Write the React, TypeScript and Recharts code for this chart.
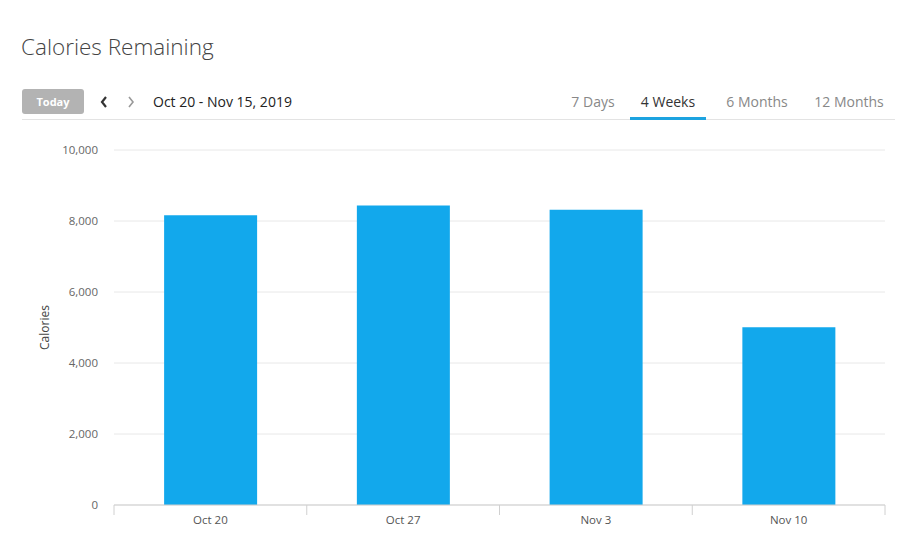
import React from "react";
import { BarChart, Bar, XAxis, YAxis, CartesianGrid } from "recharts";

const weeks = ["Oct 20", "Oct 27", "Nov 3", "Nov 10"];
const caloriesRemaining = [8160, 8440, 8320, 5010];
const yTicks = [0, 2000, 4000, 6000, 8000, 10000];
const rangeTabs = ["7 Days", "4 Weeks", "6 Months", "12 Months"];
const activeTab = "4 Weeks";

const data = weeks.map((week, i) => ({ week, calories: caloriesRemaining[i] }));

const FONT = "'Open Sans', 'Noto Sans', sans-serif";

const WeekTick = (props: any) => {
  const { x, y, payload, index } = props;
  const half = payload.offset || 0;
  const last = index === weeks.length - 1;
  return (
    <g>
      <line x1={x - half} y1={y} x2={x - half} y2={y + 10} stroke="#d0d0d0" />
      {last && <line x1={x + half} y1={y} x2={x + half} y2={y + 10} stroke="#d0d0d0" />}
      <text x={x} y={y + 19} textAnchor="middle" fill="#555" fontSize={11.5} fontFamily={FONT}>
        {payload.value}
      </text>
    </g>
  );
};

const tabPos: Record<string, { left: number; width: number }> = {
  "7 Days": { left: 560, width: 66 },
  "4 Weeks": { left: 630, width: 76 },
  "6 Months": { left: 716, width: 82 },
  "12 Months": { left: 804, width: 90 },
};

export default function App() {
  return (
    <div
      style={{
        position: "absolute",
        left: 0,
        top: 0,
        width: 900,
        height: 534,
        background: "#fff",
        fontFamily: FONT,
        overflow: "hidden",
      }}
    >
      <div style={{ position: "absolute", left: 21, top: 31, fontSize: 22.5, color: "#444", fontWeight: 300 }}>
        Calories Remaining
      </div>

      <div
        style={{
          position: "absolute",
          left: 22,
          top: 89,
          width: 62,
          height: 25,
          background: "#b3b3b3",
          borderRadius: 3,
          color: "#fff",
          fontSize: 11,
          fontWeight: 700,
          lineHeight: "25px",
          textAlign: "center",
        }}
      >
        Today
      </div>
      <svg style={{ position: "absolute", left: 97, top: 94 }} width={44} height={16}>
        <polyline points="9,3 5,8 9,13" fill="none" stroke="#333" strokeWidth={2.2} />
        <polyline points="32,3 36,8 32,13" fill="none" stroke="#999" strokeWidth={1.6} />
      </svg>
      <div style={{ position: "absolute", left: 153, top: 92, fontSize: 14, color: "#222" }}>
        Oct 20 - Nov 15, 2019
      </div>

      {rangeTabs.map((t) => (
        <div
          key={t}
          style={{
            position: "absolute",
            left: tabPos[t].left,
            top: 92,
            width: tabPos[t].width,
            textAlign: "center",
            fontSize: 14,
            color: t === activeTab ? "#333" : "#888",
          }}
        >
          {t}
        </div>
      ))}
      <div style={{ position: "absolute", left: 22, top: 119, width: 873, height: 1, background: "#e3e3e3" }} />
      <div
        style={{
          position: "absolute",
          left: tabPos[activeTab].left,
          top: 117,
          width: tabPos[activeTab].width,
          height: 3,
          background: "#1da3e0",
        }}
      />

      <div style={{ position: "absolute", left: 0, top: 0 }}>
        <BarChart
          width={900}
          height={534}
          data={data}
          margin={{ top: 150, right: 15, bottom: 0, left: 0 }}
          barCategoryGap="26%"
        >
          <CartesianGrid vertical={false} stroke="#e8e8e8" />
          <XAxis
            dataKey="week"
            height={29}
            axisLine={{ stroke: "#cfcfcf" }}
            tickLine={false}
            tickSize={0}
            tickMargin={0}
            tick={<WeekTick />}
            interval={0}
          />
          <YAxis
            width={114}
            domain={[0, 10000]}
            ticks={yTicks}
            axisLine={false}
            tickLine={false}
            tickSize={0}
            tickMargin={16}
            tickFormatter={(v: number) => v.toLocaleString("en-US")}
            tick={{ fill: "#666", fontSize: 11.5, fontFamily: FONT }}
            label={{
              content: (p: any) => {
                const vb = p.viewBox;
                const cx = 44;
                const cy = vb.y + vb.height / 2;
                return (
                  <text
                    x={cx}
                    y={cy}
                    transform={`rotate(-90 ${cx} ${cy})`}
                    textAnchor="middle"
                    dominantBaseline="central"
                    fill="#444"
                    fontSize={12}
                    fontFamily={FONT}
                  >
                    Calories
                  </text>
                );
              },
            }}
          />
          <Bar dataKey="calories" fill="#12a8ec" isAnimationActive={false} />
        </BarChart>
      </div>
    </div>
  );
}
